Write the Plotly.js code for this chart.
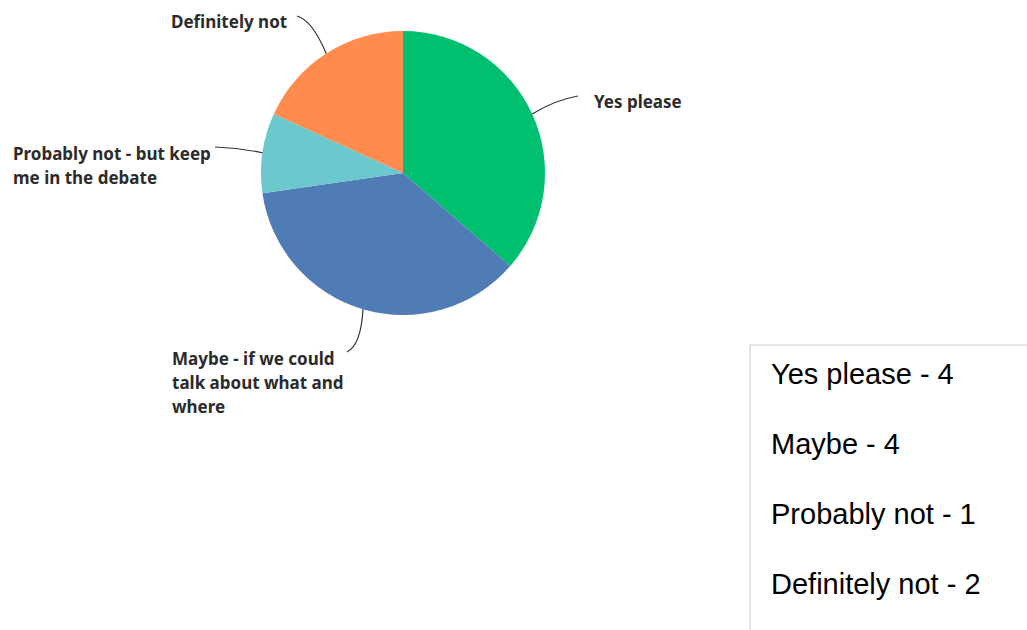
<!DOCTYPE html>
<html>
<head>
<meta charset="utf-8">
<script src="https://cdn.plot.ly/plotly-3.0.1.min.js"></script>
<style>
  html, body { margin: 0; padding: 0; background: #ffffff; }
  #chart { width: 1027px; height: 630px; }
</style>
</head>
<body>
<div id="chart"></div>
<script>
// ---- Data ----
var categories = ["Yes please", "Maybe", "Probably not", "Definitely not"];
var counts = [4, 4, 1, 2];
var sliceLabelLines = [
  ["Yes please"],
  ["Maybe - if we could", "talk about what and", "where"],
  ["Probably not - but keep", "me in the debate"],
  ["Definitely not"]
];
var colors = ["#00BF6F", "#507CB6", "#6BC8CD", "#FF8B4F"];

// ---- Layout geometry (pixels) ----
var W = 1027, H = 630;
var cx = 403, cy = 173, R = 142;
// leader-line end point and label anchor for each slice (pixels)
var leaderEnd = [[578, 96], [347, 352], [215, 147], [297, 16]];
var leaderCtrl = [[555, 100], [361, 345], [240, 148], [312, 20]];
var labelPos = [[592, 102], [170, 358], [11, 153], [169, 22]];
var labelAnchor = ["left", "left", "left", "left"];
var lineGap = 24;

function px(x) { return x / W; }
function py(y) { return 1 - y / H; }

var total = counts.reduce(function (a, b) { return a + b; }, 0);

var shapes = [];
var annotations = [];
var cum = 0;
for (var i = 0; i < counts.length; i++) {
  var mid = (cum + counts[i] / 2) / total * 2 * Math.PI; // clockwise from top
  cum += counts[i];
  var sx = cx + R * Math.sin(mid);
  var sy = cy - R * Math.cos(mid);
  var e = leaderEnd[i], c = leaderCtrl[i];
  shapes.push({
    type: "path", xref: "paper", yref: "paper",
    path: "M " + px(sx) + "," + py(sy) + " Q " + px(c[0]) + "," + py(c[1]) + " " + px(e[0]) + "," + py(e[1]),
    line: { color: "#333333", width: 1.2 }
  });
  var lines = sliceLabelLines[i];
  for (var k = 0; k < lines.length; k++) {
    annotations.push({
      xref: "paper", yref: "paper",
      x: px(labelPos[i][0]), y: py(labelPos[i][1] + k * lineGap),
      xanchor: labelAnchor[i], yanchor: "middle",
      text: "<b>" + lines[k] + "</b>", showarrow: false, align: "left",
      font: { family: "'Noto Sans', sans-serif", size: 17, color: "#2b2b2b" }
    });
  }
}

// legend box
shapes.push({
  type: "rect", xref: "paper", yref: "paper",
  x0: px(750), x1: px(1040), y0: py(345), y1: py(650),
  line: { color: "#cccccc", width: 1 }, fillcolor: "rgba(0,0,0,0)"
});
var legendY = [374, 444, 514, 584];
for (var j = 0; j < categories.length; j++) {
  annotations.push({
    xref: "paper", yref: "paper",
    x: px(769), y: py(legendY[j]), xanchor: "left", yanchor: "middle",
    text: categories[j] + " - " + counts[j], showarrow: false,
    font: { family: "'Liberation Sans', Arial, sans-serif", size: 29, color: "#000000" }
  });
}

var trace = {
  type: "pie",
  labels: categories,
  values: counts,
  sort: false,
  direction: "clockwise",
  rotation: 0,
  textinfo: "none",
  hoverinfo: "label+value",
  marker: { colors: colors, line: { width: 0 } },
  domain: { x: [px(cx - R), px(cx + R)], y: [py(cy + R), py(cy - R)] },
  showlegend: false
};

var layout = {
  width: W, height: H,
  margin: { l: 0, r: 0, t: 0, b: 0 },
  paper_bgcolor: "#ffffff",
  showlegend: false,
  shapes: shapes,
  annotations: annotations
};

Plotly.newPlot("chart", [trace], layout, { displayModeBar: false, staticPlot: true });
</script>
</body>
</html>
